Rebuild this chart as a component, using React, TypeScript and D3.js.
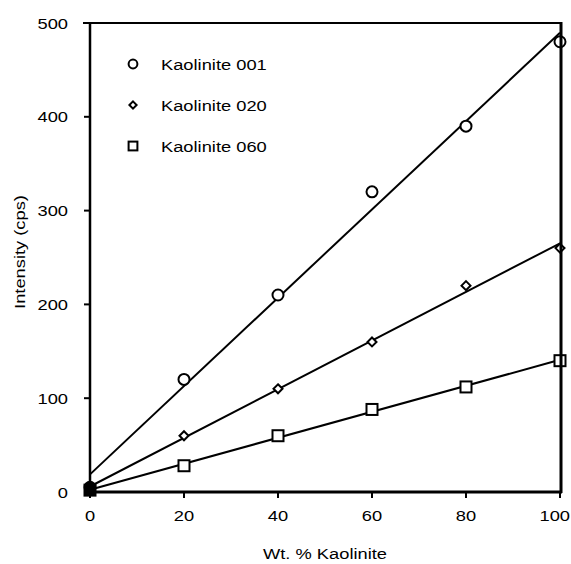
import React from "react";
import * as d3 from "d3";

const xValues = [0, 20, 40, 60, 80, 100];
const kaolinite001 = [5, 120, 210, 320, 390, 480];
const kaolinite020 = [3, 60, 110, 160, 220, 260];
const kaolinite060 = [2, 28, 60, 88, 112, 140];
const seriesNames = ["Kaolinite 001", "Kaolinite 020", "Kaolinite 060"];
const markerTypes = ["circle", "diamond", "square"];
const xTicks = [0, 20, 40, 60, 80, 100];
const yTicks = [0, 100, 200, 300, 400, 500];

const W = 571, H = 564;
const left = 90, right = 561, top = 23, bottom = 492;
const font = "'Liberation Sans', Arial, sans-serif";
const SX = 1.22;

function fit(xs: number[], ys: number[]) {
  const mx = d3.mean(xs)!, my = d3.mean(ys)!;
  let sxy = 0, sxx = 0;
  xs.forEach((x, i) => { sxy += (x - mx) * (ys[i] - my); sxx += (x - mx) ** 2; });
  const slope = sxy / sxx;
  return { slope, intercept: my - slope * mx };
}

function T({ x, y, anchor = "start", size = 15, rotate = 0, children }: any) {
  return (
    <text
      transform={`translate(${x},${y}) rotate(${rotate}) scale(${SX},1)`}
      textAnchor={anchor}
      fontFamily={font}
      fontSize={size}
      fill="black"
    >
      {children}
    </text>
  );
}

function Marker({ type, x, y, s = 1, dark = false }: { type: string; x: number; y: number; s?: number; dark?: boolean }) {
  const st = { fill: dark ? "black" : "white", stroke: "black", strokeWidth: 2 };
  if (type === "circle") return <circle cx={x} cy={y} r={5.5 * s} {...st} />;
  if (type === "diamond") {
    const r = 4.5 * s;
    return <path d={`M${x},${y - r}L${x + r},${y}L${x},${y + r}L${x - r},${y}Z`} {...st} />;
  }
  const h = 5.5 * s;
  return <rect x={x - h} y={y - h} width={2 * h} height={2 * h} {...st} />;
}

export default function App() {
  const x = d3.scaleLinear().domain([0, 100]).range([left, right - 1]);
  const y = d3.scaleLinear().domain([0, 500]).range([bottom, top]);
  const data = [kaolinite001, kaolinite020, kaolinite060];
  const line = d3.line<[number, number]>().x(d => x(d[0])).y(d => y(d[1]));

  return (
    <svg width={W} height={H} style={{ position: "absolute", left: 0, top: 0, background: "white" }}>
      <rect width={W} height={H} fill="white" />
      {data.map((ys, i) => {
        const f = fit(xValues, ys);
        const pts: [number, number][] = [[0, f.intercept], [100, f.intercept + 100 * f.slope]];
        return <path key={i} d={line(pts)!} fill="none" stroke="black" strokeWidth={2} />;
      })}
      {data.map((ys, i) =>
        ys.map((v, j) => (
          <Marker key={`${i}-${j}`} type={markerTypes[i]} x={x(xValues[j])} y={y(v)} dark={xValues[j] === 0} />
        ))
      )}
      <line x1={left - 7} x2={right} y1={top} y2={top} stroke="black" strokeWidth={2} />
      <line x1={right} x2={right} y1={top - 1} y2={bottom + 1} stroke="black" strokeWidth={3} />
      <line x1={left} x2={left} y1={top} y2={bottom + 1} stroke="black" strokeWidth={2.5} />
      <line x1={left} x2={right + 1} y1={bottom} y2={bottom} stroke="black" strokeWidth={3} />
      {yTicks.map(t => (
        <g key={t}>
          <line x1={left - 6} x2={left} y1={y(t)} y2={y(t)} stroke="black" strokeWidth={2} />
          <T x={68} y={y(t) + 5.5} anchor="end">{t}</T>
        </g>
      ))}
      {xTicks.map(t => {
        const half = (String(t).length * 0.556 * 15 * SX) / 2;
        const cx = Math.min(x(t), W - half - 1);
        return (
          <g key={t}>
            <line x1={x(t)} x2={x(t)} y1={bottom} y2={bottom + 6} stroke="black" strokeWidth={2} />
            <T x={cx} y={521} anchor="middle">{t}</T>
          </g>
        );
      })}
      <T x={325} y={559} anchor="middle">Wt. % Kaolinite</T>
      <T x={25} y={252} anchor="middle" rotate={-90}>Intensity (cps)</T>
      {seriesNames.map((n, i) => (
        <g key={n}>
          <Marker type={markerTypes[i]} x={133} y={64 + i * 41} s={0.8} />
          <T x={161} y={64 + i * 41 + 5.5}>{n}</T>
        </g>
      ))}
    </svg>
  );
}
